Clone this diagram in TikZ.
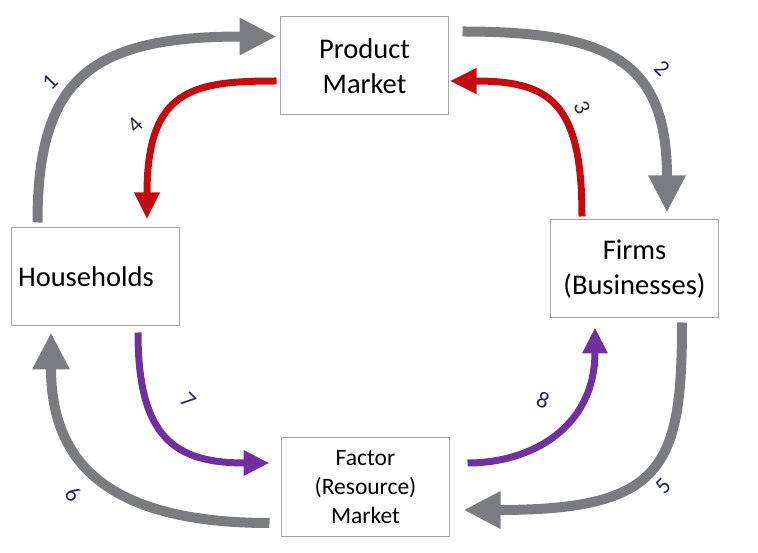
\documentclass[tikz,border=0pt]{standalone}
\usepackage{fontspec}
\setmainfont{Carlito}
\usetikzlibrary{arrows.meta}

\definecolor{flowgray}{RGB}{122,124,128}
\definecolor{flowred}{RGB}{196,12,16}
\definecolor{flowpurple}{RGB}{112,48,160}
\definecolor{boxgray}{RGB}{165,165,165}
\definecolor{numblue}{RGB}{30,40,95}

\begin{document}
\begin{tikzpicture}[x=1pt, y=1pt,
    box/.style={draw=boxgray, line width=1pt, fill=white, minimum width=168pt, minimum height=98pt, inner sep=0pt, align=center, font=\fontsize{28.5}{35}\selectfont},
    grayflow/.style={draw=flowgray, line width=10pt, -{Triangle[length=37pt, width=35pt]}},
    redflow/.style={draw=flowred, line width=7pt, -{Triangle[length=27pt, width=24pt]}},
    purpleflow/.style={draw=flowpurple, line width=7pt, -{Triangle[length=26pt, width=24pt]}},
    num/.style={text=numblue, font=\fontsize{23}{23}\selectfont, inner sep=0pt}]
    \useasboundingbox (0,0) rectangle (758,552);

    % Markets and sectors
    \node[box] (product) at (364.5,486) {Product\\Market};
    \node[box, text width=154pt, align=left, inner xsep=7pt] (households) at (95,275) {Households};
    \node[box] (firms) at (634.5,283) {Firms\\(Businesses)};
    \node[box, font=\fontsize{23.5}{29}\selectfont] (factor) at (365.5,65) {Factor\\(Resource)\\Market};

    % Outer flows (gray)
    \draw[grayflow] ([shift={(27,5)}]households.north west) to[out=90, in=180, out distance=143pt, in distance=187pt] ([shift={(-3.5,-20)}]product.north west);
    \draw[grayflow] ([shift={(13.5,-15)}]product.north east) to[out=0, in=90, out distance=150pt, in distance=150pt] ([shift={(32.5,7)}]firms.north);
    \draw[grayflow] ([shift={(47.5,-4)}]firms.south) to[out=-90, in=0, out distance=145pt, in distance=200pt] ([shift={(13.5,-23)}]factor.east);
    \draw[grayflow] ([shift={(-11.5,-36)}]factor.west) to[out=180, in=-90, out distance=180pt, in distance=115pt] ([shift={(-44,-6)}]households.south);

    % Inner flows (red)
    \draw[redflow] ([shift={(-52.5,3)}]firms.north) to[out=90, in=0, out distance=115pt, in distance=100pt] ([shift={(0.5,-15)}]product.east);
    \draw[redflow] ([shift={(-3.5,-15)}]product.west) to[out=180, in=90, out distance=85pt, in distance=130pt] ([shift={(52,8)}]households.north);

    % Inner flows (purple)
    \draw[purpleflow] ([shift={(43,-6)}]households.south) to[out=-90, in=180, out distance=105pt, in distance=95pt] ([shift={(-11.5,24)}]factor.west);
    \draw[purpleflow] ([shift={(17.5,24)}]factor.east) to[out=0, in=-90, out distance=64pt, in distance=100pt] ([shift={(-39.5,-9)}]firms.south);

    % Numbers
    \node[num, rotate=45] (n1) at (50,470) {1};
    \node[num, rotate=-45] (n2) at (662,484) {2};
    \node[num, rotate=-65] (n3) at (582,444) {3};
    \node[num, rotate=45] (n4) at (135,427) {4};
    \node[num, rotate=45] (n5) at (663,66) {5};
    \node[num, rotate=-45] (n6) at (73,58) {6};
    \node[num, rotate=-45] (n7) at (188,152) {7};
    \node[num, rotate=-20] (n8) at (543,152) {8};
\end{tikzpicture}
\end{document}
